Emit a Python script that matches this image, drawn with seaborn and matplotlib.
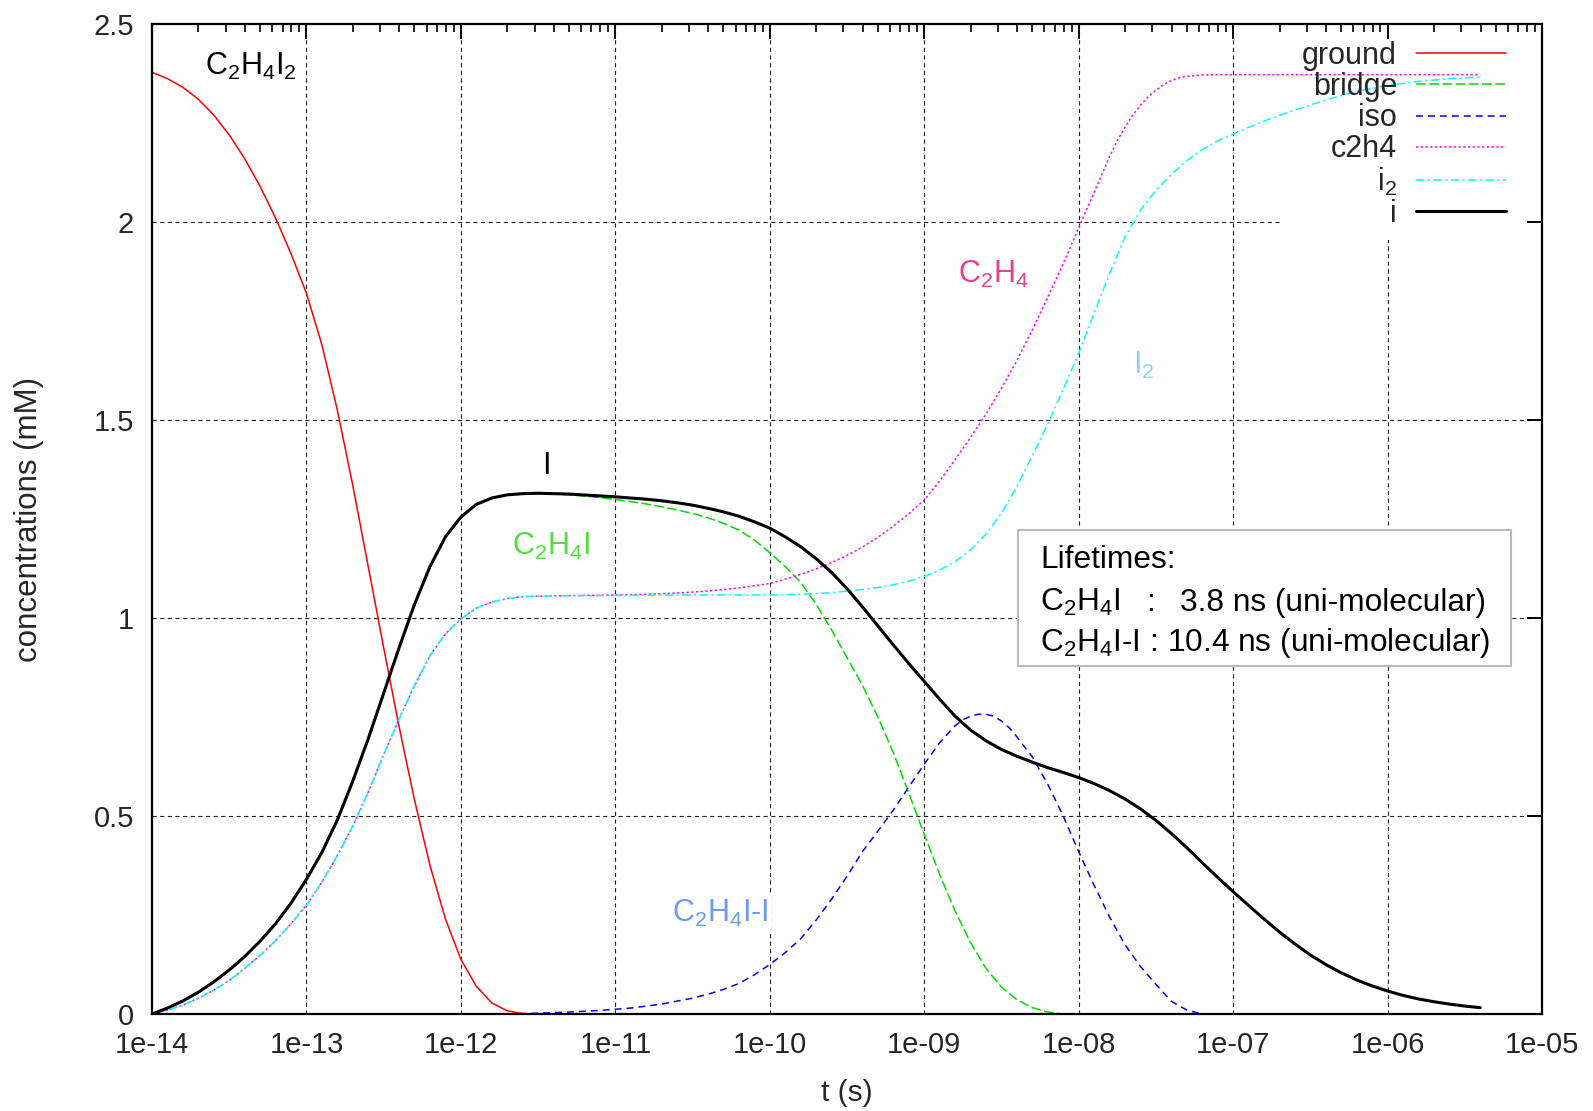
import numpy as np
import pandas as pd
import matplotlib
matplotlib.use("Agg")
import matplotlib.pyplot as plt
import seaborn as sns
from matplotlib.ticker import FixedLocator, FixedFormatter, LogLocator, NullFormatter
from matplotlib.patches import Rectangle

# ---- concentration curves (time given as log10 of seconds) ----
ground_logt = [-14.0, -13.9, -13.8, -13.7, -13.6, -13.5, -13.4, -13.3, -13.2, -13.1,
               -13.0, -12.9, -12.8, -12.7, -12.6, -12.5, -12.4, -12.3, -12.2, -12.1,
               -12.0, -11.9, -11.8, -11.7, -11.6, -11.5]
ground_c = [2.378, 2.362, 2.34, 2.31, 2.27, 2.22, 2.16, 2.09, 2.01, 1.92,
            1.82, 1.69, 1.525, 1.335, 1.13, 0.925, 0.725, 0.54, 0.375, 0.24,
            0.138, 0.07, 0.028, 0.008, 0.001, 0.0]

i_logt = [-14.0, -13.9, -13.8, -13.7, -13.6, -13.5, -13.4, -13.3, -13.2, -13.1,
          -13.0, -12.9, -12.8, -12.7, -12.6, -12.5, -12.4, -12.3, -12.2, -12.1,
          -12.0, -11.9, -11.8, -11.7, -11.6, -11.5, -11.3, -11.0, -10.9, -10.8,
          -10.7, -10.6, -10.5, -10.4, -10.3, -10.2, -10.1, -10.0, -9.9, -9.8,
          -9.7, -9.6, -9.5, -9.4, -9.3, -9.2, -9.1, -9.0, -8.9, -8.8,
          -8.7, -8.6, -8.5, -8.4, -8.3, -8.2, -8.1, -8.0, -7.9, -7.8,
          -7.7, -7.6, -7.5, -7.4, -7.3, -7.2, -7.1, -7.0, -6.9, -6.8,
          -6.7, -6.6, -6.5, -6.4, -6.3, -6.2, -6.1, -6.0, -5.9, -5.8,
          -5.7, -5.6, -5.5, -5.4]
i_c = [0.0, 0.015, 0.033, 0.055, 0.081, 0.111, 0.145, 0.184, 0.228, 0.28,
       0.34, 0.408, 0.49, 0.588, 0.695, 0.81, 0.925, 1.035, 1.13, 1.205,
       1.255, 1.287, 1.303, 1.311, 1.314, 1.315, 1.313, 1.306, 1.303, 1.30,
       1.296, 1.291, 1.285, 1.277, 1.268, 1.257, 1.243, 1.227, 1.205, 1.18,
       1.15, 1.115, 1.074, 1.028, 0.98, 0.932, 0.885, 0.84, 0.795, 0.752,
       0.717, 0.69, 0.668, 0.651, 0.636, 0.622, 0.61, 0.597, 0.582, 0.564,
       0.543, 0.518, 0.489, 0.456, 0.42, 0.382, 0.345, 0.309, 0.274, 0.24,
       0.207, 0.177, 0.149, 0.125, 0.104, 0.086, 0.071, 0.058, 0.047, 0.038,
       0.031, 0.025, 0.02, 0.016]

bridge_logt = [-14.0, -13.9, -13.8, -13.7, -13.6, -13.5, -13.4, -13.3, -13.2, -13.1,
               -13.0, -12.9, -12.8, -12.7, -12.6, -12.5, -12.4, -12.3, -12.2, -12.1,
               -12.0, -11.9, -11.8, -11.7, -11.6, -11.5, -11.3, -11.2, -11.1, -11.0,
               -10.9, -10.8, -10.7, -10.6, -10.5, -10.4, -10.3, -10.2, -10.1, -10.0,
               -9.9, -9.8, -9.7, -9.6, -9.5, -9.4, -9.3, -9.2, -9.1, -9.0,
               -8.9, -8.8, -8.7, -8.6, -8.5, -8.4, -8.3, -8.2, -8.1]
bridge_c = [0.0, 0.015, 0.033, 0.055, 0.081, 0.111, 0.145, 0.184, 0.228, 0.28,
            0.34, 0.408, 0.49, 0.588, 0.695, 0.81, 0.925, 1.035, 1.13, 1.205,
            1.255, 1.287, 1.303, 1.311, 1.314, 1.315, 1.311, 1.308, 1.304, 1.299,
            1.294, 1.288, 1.281, 1.273, 1.264, 1.253, 1.239, 1.222, 1.197, 1.165,
            1.13, 1.09, 1.035, 0.97, 0.90, 0.83, 0.75, 0.66, 0.558, 0.454,
            0.352, 0.26, 0.18, 0.115, 0.068, 0.036, 0.016, 0.005, 0.0]

iso_logt = [-11.7, -11.5, -11.3, -11.1, -10.9, -10.7, -10.5, -10.4, -10.3, -10.2,
            -10.1, -10.0, -9.9, -9.8, -9.7, -9.6, -9.5, -9.4, -9.3, -9.2,
            -9.1, -9.0, -8.9, -8.8, -8.75, -8.7, -8.65, -8.6, -8.55, -8.5,
            -8.45, -8.4, -8.3, -8.2, -8.1, -8.0, -7.9, -7.8, -7.7, -7.6,
            -7.5, -7.4, -7.3, -7.2]
iso_c = [0.0, 0.002, 0.005, 0.009, 0.015, 0.025, 0.04, 0.05, 0.062, 0.077,
         0.099, 0.125, 0.155, 0.19, 0.237, 0.29, 0.348, 0.41, 0.462, 0.515,
         0.573, 0.631, 0.685, 0.728, 0.743, 0.752, 0.757, 0.757, 0.752, 0.74,
         0.723, 0.70, 0.649, 0.58, 0.50, 0.41, 0.325, 0.245, 0.175, 0.12,
         0.075, 0.032, 0.01, 0.0]

c2h4_logt = [-14.0, -13.9, -13.8, -13.7, -13.6, -13.5, -13.4, -13.3, -13.2, -13.1,
             -13.0, -12.9, -12.8, -12.7, -12.6, -12.5, -12.4, -12.3, -12.2, -12.1,
             -12.0, -11.9, -11.8, -11.7, -11.6, -11.4, -11.0, -10.8, -10.6, -10.4,
             -10.2, -10.0, -9.9, -9.8, -9.7, -9.6, -9.5, -9.4, -9.3, -9.2,
             -9.1, -9.0, -8.9, -8.8, -8.7, -8.6, -8.5, -8.4, -8.3, -8.2,
             -8.1, -8.0, -7.9, -7.8, -7.75, -7.7, -7.65, -7.6, -7.55, -7.5,
             -7.45, -7.4, -7.35, -7.3, -7.2, -7.1, -6.5, -5.4]
c2h4_c = [0.0, 0.01, 0.022, 0.04, 0.06, 0.085, 0.115, 0.148, 0.185, 0.228,
          0.275, 0.333, 0.40, 0.475, 0.56, 0.655, 0.745, 0.83, 0.905, 0.96,
          0.998, 1.025, 1.04, 1.049, 1.054, 1.056, 1.058, 1.06, 1.063, 1.068,
          1.076, 1.087, 1.098, 1.11, 1.124, 1.14, 1.158, 1.179, 1.204, 1.232,
          1.263, 1.298, 1.346, 1.40, 1.456, 1.515, 1.58, 1.65, 1.728, 1.81,
          1.895, 1.985, 2.075, 2.165, 2.205, 2.24, 2.27, 2.295, 2.316, 2.333,
          2.347, 2.357, 2.364, 2.368, 2.371, 2.372, 2.372, 2.372]

i2_logt = [-14.0, -13.9, -13.8, -13.7, -13.6, -13.5, -13.4, -13.3, -13.2, -13.1,
           -13.0, -12.9, -12.8, -12.7, -12.6, -12.5, -12.4, -12.3, -12.2, -12.1,
           -12.0, -11.9, -11.8, -11.7, -11.6, -11.4, -11.0, -10.5, -10.0, -9.8,
           -9.6, -9.5, -9.4, -9.3, -9.2, -9.1, -9.0, -8.9, -8.8, -8.7,
           -8.6, -8.5, -8.4, -8.3, -8.2, -8.1, -8.0, -7.9, -7.8, -7.7,
           -7.6, -7.5, -7.4, -7.3, -7.2, -7.1, -7.0, -6.9, -6.8, -6.6,
           -6.4, -6.2, -6.0, -5.8, -5.6, -5.4]
i2_c = [0.0, 0.01, 0.022, 0.04, 0.06, 0.085, 0.115, 0.148, 0.185, 0.228,
        0.275, 0.333, 0.40, 0.475, 0.56, 0.655, 0.745, 0.83, 0.905, 0.96,
        0.998, 1.025, 1.04, 1.049, 1.054, 1.056, 1.057, 1.058, 1.058, 1.06,
        1.064, 1.068, 1.072, 1.077, 1.084, 1.093, 1.105, 1.121, 1.142, 1.172,
        1.212, 1.265, 1.332, 1.41, 1.49, 1.578, 1.668, 1.77, 1.87, 1.962,
        2.03, 2.08, 2.12, 2.155, 2.183, 2.205, 2.222, 2.239, 2.255, 2.283,
        2.308, 2.33, 2.345, 2.355, 2.362, 2.366]

# ---- axes ticks ----
x_tick_exps = [-14, -13, -12, -11, -10, -9, -8, -7, -6, -5]
x_tick_labels = ["1e-14", "1e-13", "1e-12", "1e-11", "1e-10",
                 "1e-09", "1e-08", "1e-07", "1e-06", "1e-05"]
y_ticks = [0, 0.5, 1, 1.5, 2, 2.5]
y_tick_labels = ["0", "0.5", "1", "1.5", "2", "2.5"]

sns.set_style("white")
plt.rcParams["font.family"] = ["Liberation Sans", "DejaVu Sans"]
plt.rcParams["mathtext.default"] = "regular"
plt.rcParams["lines.scale_dashes"] = False
plt.rcParams["axes.axisbelow"] = "line"

fig = plt.figure(figsize=(15.93, 11.11), dpi=100)
ax = fig.add_axes([152 / 1593, 97 / 1111, 1390 / 1593, 990 / 1111])
ax.set_xscale("log")

series = [
    ("ground", ground_logt, ground_c, "#ff0000", 1.1, "-"),
    ("bridge", bridge_logt, bridge_c, "#00dd00", 1.1, (0, (7, 2.5))),
    ("iso", iso_logt, iso_c, "#0000ff", 1.1, (0, (5, 3.6))),
    ("c2h4", c2h4_logt, c2h4_c, "#ff00ff", 1.1, (0, (1.6, 1.8))),
    ("i$_2$", i2_logt, i2_c, "#00ffff", 1.1, (0, (6, 2.5, 1.5, 2.5))),
    ("i", i_logt, i_c, "#000000", 2.2, "-"),
]
for name, lt, vals, color, lw, ls in series:
    df = pd.DataFrame({"t": 10.0 ** np.asarray(lt), "c": vals})
    sns.lineplot(data=df, x="t", y="c", ax=ax, color=color, linewidth=lw,
                 linestyle=ls, label=name, estimator=None, errorbar=None,
                 sort=False, legend=False)

ax.set_xlim(1e-14, 1e-5)
ax.set_ylim(0, 2.5)

# grid
grid_kw = dict(color="#222222", lw=0.8, ls=(0, (3, 2.5)), zorder=0.8)
for e in x_tick_exps[1:-1]:
    ax.axvline(10.0 ** e, **grid_kw)
for yv in y_ticks[1:-1]:
    ax.axhline(yv, **grid_kw)

# opaque area behind the key
ax.add_patch(Rectangle((0.8137, 0.7818), 0.2, 0.22, transform=ax.transAxes,
                       facecolor="white", edgecolor="none", zorder=0.9))

# ticks
ax.xaxis.set_major_locator(FixedLocator([10.0 ** e for e in x_tick_exps]))
ax.xaxis.set_major_formatter(FixedFormatter(x_tick_labels))
ax.xaxis.set_minor_locator(LogLocator(base=10, subs=np.arange(2, 10), numticks=20))
ax.xaxis.set_minor_formatter(NullFormatter())
ax.yaxis.set_major_locator(FixedLocator(y_ticks))
ax.yaxis.set_major_formatter(FixedFormatter(y_tick_labels))
ax.tick_params(which="both", direction="in", top=True, right=True, color="black")
ax.tick_params(which="major", length=10.5, width=1.4, labelsize=21)
ax.tick_params(which="minor", length=5.5, width=1.2)
ax.tick_params(axis="x", which="major", pad=12.5)
ax.tick_params(axis="y", which="major", pad=13)
for s in ax.spines.values():
    s.set_linewidth(1.6)
    s.set_color("black")

ax.set_xlabel("t (s)", fontsize=21.5)
ax.set_ylabel("concentrations (mM)", fontsize=22.5)
ax.xaxis.set_label_coords(0.5, -0.066)
ax.yaxis.set_label_coords(-0.078, 0.5)

# key
leg = ax.legend(loc="upper right", bbox_to_anchor=(0.974, 0.983), frameon=False,
                fontsize=22, markerfirst=False, handlelength=2.94,
                handletextpad=0.62, labelspacing=0.04, borderpad=0,
                borderaxespad=0)

# species labels
lab_kw = dict(fontsize=22, zorder=1.1,
              bbox=dict(facecolor="white", edgecolor="none", pad=2))
ax.text(10 ** -13.657, 2.371, "C$_2$H$_4$I$_2$", color="black", ha="left", va="baseline", **lab_kw)
ax.text(10 ** -11.449, 1.364, "I", color="black", ha="center", va="baseline", **lab_kw)
ax.text(10 ** -11.669, 1.159, "C$_2$H$_4$I", color="#50e03c", ha="left", va="baseline", **lab_kw)
ax.text(10 ** -10.633, 0.232, "C$_2$H$_4$I-I", color="#6b9cf5", ha="left", va="baseline", **lab_kw)
ax.text(10 ** -8.781, 1.846, "C$_2$H$_4$", color="#f4398f", ha="left", va="baseline", **lab_kw)
ax.text(10 ** -7.648, 1.616, "I$_2$", color="#99ccff", ha="left", va="baseline", **lab_kw)

# lifetimes box
ax.add_patch(Rectangle((0.623, 0.3515), 0.355, 0.1374, transform=ax.transAxes,
                       facecolor="white", edgecolor="#bbbbbb", lw=1.5, zorder=1.2))
box_kw = dict(transform=ax.transAxes, fontsize=22.8, ha="left", va="baseline",
              color="black", zorder=1.3)
ax.text(0.6388, 0.4505, "Lifetimes:", **box_kw)
ax.text(0.6388, 0.4071, "C$_2$H$_4$I", **box_kw)
ax.text(0.7151, 0.4071, ":", **box_kw)
ax.text(0.7396, 0.4071, "3.8 ns (uni-molecular)", **box_kw)
ax.text(0.6388, 0.3667, "C$_2$H$_4$I-I : 10.4 ns (uni-molecular)", **box_kw)

fig.savefig("out.png", dpi=100)
